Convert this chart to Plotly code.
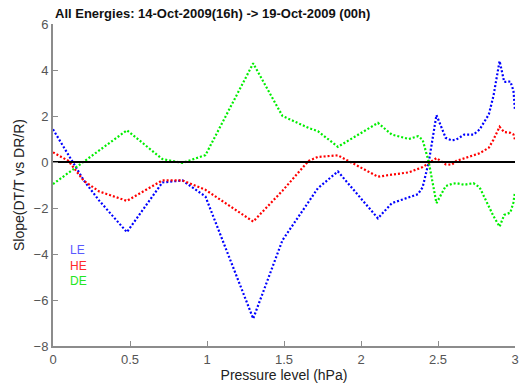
import plotly.graph_objects as go

# Pressure levels (hPa) shared by all three energy channels
pressure = [0.0, 0.1, 0.2, 0.3, 0.48, 0.71, 0.84, 0.99, 1.30, 1.49, 1.66, 1.72,
            1.85, 2.11, 2.20, 2.31, 2.37, 2.40, 2.44, 2.49, 2.55, 2.59, 2.62,
            2.67, 2.73, 2.77, 2.83, 2.86, 2.90, 2.93, 2.97, 2.99, 3.0]

# Slope values per channel
slope_le = [1.42, 0.30, -0.80, -1.68, -3.05, -0.89, -0.80, -1.50, -6.81, -3.40, -1.75, -1.14,
            -0.41, -2.45, -1.79, -1.55, -1.40, -1.10, 0.0, 2.04, 1.05, 0.94, 0.98,
            1.19, 1.19, 1.41, 2.07, 2.87, 4.39, 3.48, 3.50, 3.10, 2.24]
slope_he = [0.42, 0.05, -0.82, -1.28, -1.69, -0.80, -0.80, -1.21, -2.59, -1.25, 0.05, 0.22,
            0.29, -0.64, -0.55, -0.45, -0.30, -0.22, -0.05, 0.17, -0.10, -0.12, 0.05,
            0.15, 0.27, 0.38, 0.62, 0.97, 1.53, 1.30, 1.27, 1.20, 0.97]
slope_de = [-0.96, -0.47, 0.00, 0.49, 1.38, 0.13, -0.04, 0.30, 4.29, 2.00, 1.48, 1.34,
            0.66, 1.70, 1.19, 1.00, 1.12, 0.97, 0.0, -1.79, -1.05, -0.95, -0.92,
            -0.99, -0.92, -1.10, -1.94, -2.35, -2.81, -2.30, -2.20, -1.75, -1.30]

series_names = ["LE", "HE", "DE"]
series_values = [slope_le, slope_he, slope_de]
series_colors = ["#0000ff", "#ff0000", "#00ee00"]
label_colors = ["#5a5aff", "#ff2a2a", "#22e622"]

x_ticks = [0, 0.5, 1, 1.5, 2, 2.5, 3]
x_tick_text = ["0", "0.5", "1", "1.5", "2", "2.5", "3"]
y_ticks = [-8, -6, -4, -2, 0, 2, 4, 6]

fig = go.Figure()

for name, vals, col in zip(series_names, series_values, series_colors):
    fig.add_trace(go.Scatter(
        x=pressure, y=vals, mode="lines", name=name,
        line=dict(color=col, width=2.2, dash="2px,2px"),
        showlegend=False,
    ))

# horizontal reference at zero slope
fig.add_trace(go.Scatter(
    x=[0, 3], y=[0, 0], mode="lines",
    line=dict(color="black", width=2), showlegend=False,
))

# channel labels stacked inside the plot, one coloured line each
label_text = "<br>".join(
    f'<span style="color:{c}">{n}</span>' for n, c in zip(series_names, label_colors)
)
fig.add_annotation(
    x=0.1, y=-4.5, xref="x", yref="y", text=label_text, showarrow=False,
    xanchor="left", yanchor="middle", align="left",
    font=dict(family="Liberation Sans, Arial", size=12),
)

fig.add_annotation(
    x=0, y=1.032, xref="paper", yref="paper", xanchor="left", yanchor="middle",
    text="<b>All Energies: 14-Oct-2009(16h) -> 19-Oct-2009 (00h)</b>",
    showarrow=False,
    font=dict(family="Liberation Sans, Arial", size=13, color="#111111"),
)

axis_common = dict(
    showline=True, linecolor="#8c8c8c", linewidth=2,
    ticks="inside", ticklen=5, tickcolor="#8c8c8c", tickwidth=1,
    showgrid=False, zeroline=False, mirror=False, automargin=False,
    tickfont=dict(family="Liberation Sans, Arial", size=13, color="#555555"),
)

fig.update_layout(
    width=527, height=387,
    margin=dict(l=53, r=12, t=24, b=41),
    paper_bgcolor="white", plot_bgcolor="white",
    xaxis=dict(
        range=[0, 3], tickvals=x_ticks, ticktext=x_tick_text,
        title=dict(text="Pressure level (hPa)", standoff=4,
                   font=dict(family="Liberation Sans, Arial", size=14, color="#222222")),
        **axis_common,
    ),
    yaxis=dict(
        range=[-8, 6], tickvals=y_ticks,
        title=dict(text="Slope(DT/T vs DR/R)", standoff=6,
                   font=dict(family="Liberation Sans, Arial", size=14, color="#222222")),
        **axis_common,
    ),
)

fig.write_html("out.html")
